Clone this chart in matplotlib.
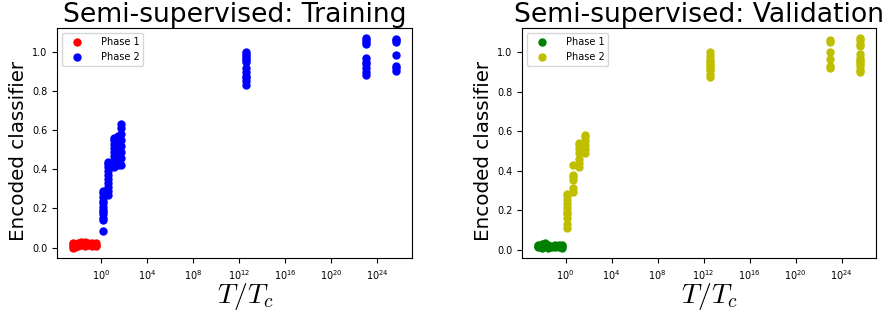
import numpy as np
import matplotlib
matplotlib.use("Agg")
import matplotlib.pyplot as plt

plt.rcParams['mathtext.fontset'] = 'cm'

# log10(T/Tc) of each temperature column, and encoded classifier values per column
# --- training ---
train_p1_logT = [-2.4, -2.2, -2.0, -1.7, -1.4, -1.1, -0.8, -0.45]
train_p1_vals = [
    [0.0, 0.01, 0.02, 0.025],
    [0.005, 0.015, 0.02],
    [0.01, 0.02, 0.025],
    [0.015, 0.025, 0.03],
    [0.01, 0.02, 0.028],
    [0.012, 0.02, 0.025],
    [0.01, 0.018, 0.024],
    [0.008, 0.015, 0.022],
]
train_p2_logT = [0.2, 0.65, 1.15, 1.45, 1.75, 12.6, 23.0, 25.6]
train_p2_vals = [
    [0.085, 0.14, 0.15, 0.17, 0.18, 0.19, 0.21, 0.23, 0.24, 0.26, 0.28, 0.29],
    [0.27, 0.29, 0.31, 0.33, 0.35, 0.37, 0.39, 0.41, 0.43, 0.44],
    [0.41, 0.43, 0.45, 0.47, 0.49, 0.51, 0.53, 0.55, 0.56],
    [0.42, 0.45, 0.48, 0.50, 0.52, 0.54, 0.57],
    [0.42, 0.46, 0.49, 0.52, 0.55, 0.58, 0.61, 0.63],
    [1.0, 0.99, 0.98, 0.97, 0.96, 0.95, 0.92, 0.90, 0.88, 0.87, 0.85, 0.83],
    [1.07, 1.06, 1.05, 1.04, 0.97, 0.95, 0.94, 0.92, 0.90, 0.885],
    [1.065, 1.06, 1.05, 0.985, 0.93, 0.92, 0.905],
]

# --- validation ---
val_p1_logT = [-2.4, -2.1, -1.8, -1.5, -1.2, -0.9, -0.6, -0.35]
val_p1_vals = [
    [0.015, 0.02, 0.025],
    [0.01, 0.02, 0.03],
    [0.02, 0.03, 0.035],
    [0.01, 0.015, 0.025],
    [0.012, 0.02],
    [0.015, 0.022],
    [0.012, 0.02, 0.025],
    [0.01, 0.018, 0.024],
]
val_p2_logT = [0.15, 0.65, 1.2, 1.7, 12.6, 23.0, 25.6]
val_p2_vals = [
    [0.11, 0.13, 0.16, 0.18, 0.19, 0.21, 0.23, 0.25, 0.27, 0.28],
    [0.29, 0.31, 0.35, 0.37, 0.38, 0.43],
    [0.42, 0.44, 0.46, 0.49, 0.51, 0.53, 0.54],
    [0.49, 0.51, 0.53, 0.55, 0.57, 0.58],
    [1.0, 0.98, 0.96, 0.95, 0.94, 0.93, 0.92, 0.91, 0.89, 0.875],
    [1.06, 1.05, 1.0, 0.965, 0.93, 0.92],
    [1.07, 1.06, 1.04, 1.03, 0.99, 0.97, 0.96, 0.95, 0.94, 0.93, 0.91, 0.90],
]


def flatten(logT, vals):
    xs, ys = [], []
    for lt, vv in zip(logT, vals):
        for v in vv:
            xs.append(10.0 ** lt)
            ys.append(v)
    return np.array(xs), np.array(ys)


def panel(ax, p1, p2, c1, c2, titulo):
    x1, y1 = flatten(*p1)
    x2, y2 = flatten(*p2)
    ax.scatter(x1, y1, s=25, c=c1, label="Phase 1")
    ax.scatter(x2, y2, s=25, c=c2, label="Phase 2")
    ax.set_xscale("log")
    ax.set_title(titulo, fontsize=19.2, pad=3.5)
    ax.set_xlabel(r"$T/T_c$", fontsize=20)
    ax.set_ylabel("Encoded classifier", fontsize=14.3)
    ax.xaxis.set_label_coords(0.53, -0.1)
    ax.yaxis.set_label_coords(-0.082, 0.465)
    ax.tick_params(labelsize=7)
    ax.legend(loc="upper left", fontsize=7, handlelength=2.3, handletextpad=1.3)


fig = plt.figure(figsize=(8.86, 3.18), dpi=100)
ax1 = fig.add_axes([57/886, 60/318, 355/886, 230/318])
ax2 = fig.add_axes([522/886, 60/318, 354/886, 230/318])

panel(ax1, (train_p1_logT, train_p1_vals), (train_p2_logT, train_p2_vals),
      "r", "b", "Semi-supervised: Training")
panel(ax2, (val_p1_logT, val_p1_vals), (val_p2_logT, val_p2_vals),
      "g", "y", "Semi-supervised: Validation")

fig.savefig("out.png", dpi=100)
